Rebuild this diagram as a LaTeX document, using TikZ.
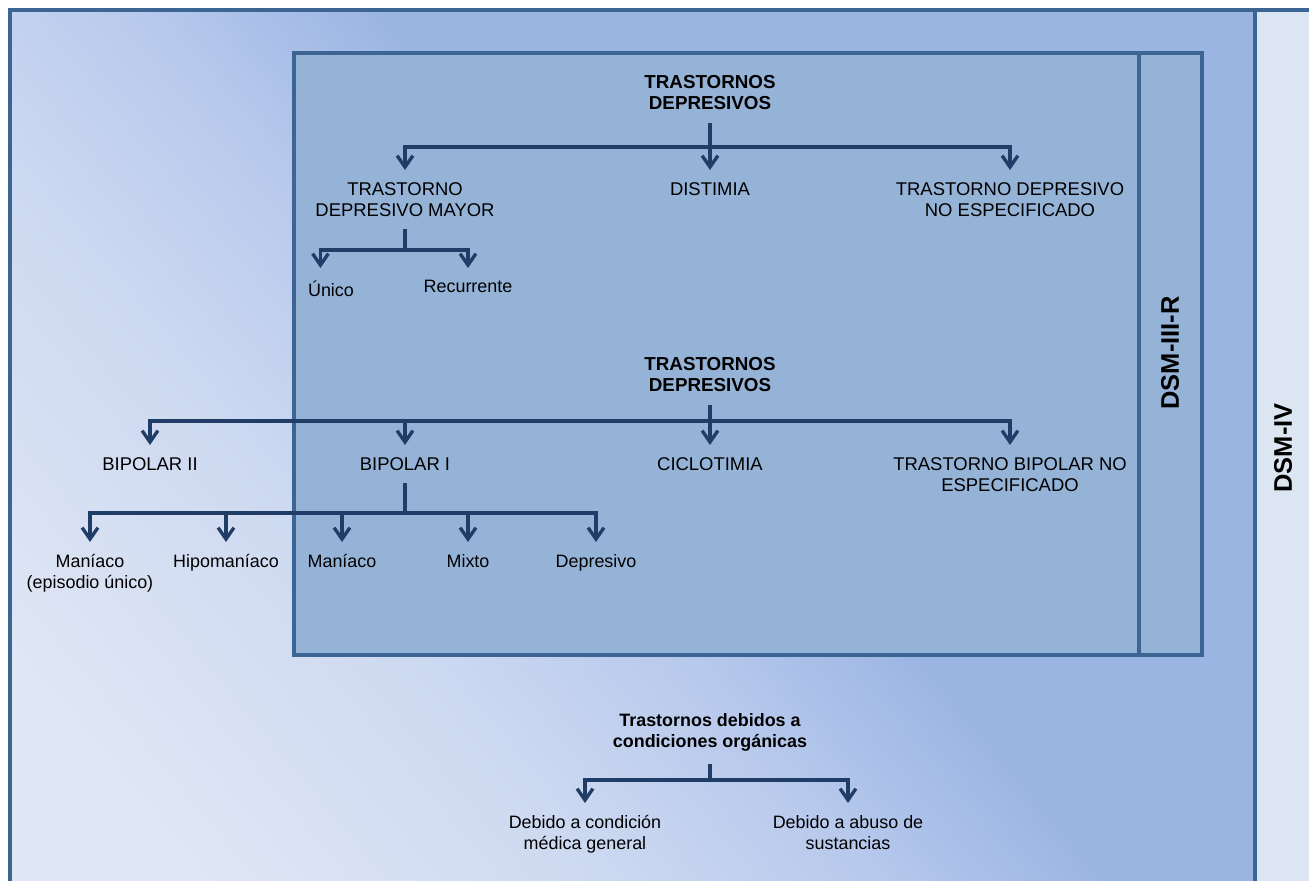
\documentclass[tikz,border=0pt]{standalone}
\usepackage{fontspec}
\setmainfont{Liberation Sans}
\usetikzlibrary{arrows.meta}

\definecolor{framecol}{HTML}{3D6594}
\definecolor{innerfill}{HTML}{95B3D7}
\definecolor{bandfill}{HTML}{DCE6F2}
\definecolor{linkcol}{HTML}{1F3D66}
\definecolor{fadeA}{HTML}{E1E8F5}
\definecolor{fadeB}{HTML}{CDD9F1}
\definecolor{fadeC}{HTML}{B6C8EC}
\definecolor{fadeD}{HTML}{9BB5E3}
\pgfdeclarehorizontalshading{dsmfade}{100bp}{color(0bp)=(fadeA); color(20bp)=(fadeA);
  color(36bp)=(fadeB); color(46bp)=(fadeC); color(54bp)=(fadeD); color(100bp)=(fadeD)}

\begin{document}
\begin{tikzpicture}[x=0.02cm,y=0.02cm,
      every node/.style={font=\fontsize{10.2}{12}\selectfont},
      item node/.style={align=center,inner xsep=1pt,inner ysep=7pt,anchor=north},
      caps node/.style={item node,font=\fontsize{10.5}{12}\selectfont},
      head node/.style={item node,font=\fontsize{10.2}{12}\selectfont\bfseries},
      dsm node/.style={rotate=90,font=\fontsize{14.5}{16}\selectfont\bfseries},
      frame/.style={draw=framecol,line width=2.2pt},
      stem/.style={draw=linkcol,line width=1.9pt},
      link/.style={stem,-{Straight Barb[length=6.5pt,width=9pt]}}]

      \useasboundingbox (0,0) rectangle (1309,-881);

      % DSM-IV frame
      \shade[shading=dsmfade,shading angle=40] (10,-10) rectangle (1255,-881);
      \fill[bandfill] (1255,-10) rectangle (1309,-881);
      \draw[frame] (10,-881) -- (10,-10) -- (1309,-10);
      \draw[frame] (1255,-10) -- (1255,-881);

      % DSM-III-R frame
      \path[frame,fill=innerfill] (294,-53) rectangle (1202,-655);
      \draw[frame] (1139,-53) -- (1139,-655);

      \node[dsm node] (dsm3) at (1170,-353) {DSM-III-R};
      \node[dsm node] (dsm4) at (1283,-448) {DSM-IV};

      % depresivos
      \node[head node,font=\fontsize{10.7}{12}\selectfont\bfseries] (dep1) at (710,-63) {TRASTORNOS\\DEPRESIVOS};
      \node[caps node] (tdm) at (405,-170) {TRASTORNO\\DEPRESIVO MAYOR};
      \node[caps node] (dist) at (710,-170) {DISTIMIA};
      \node[caps node] (tdne) at (1010,-170) {TRASTORNO DEPRESIVO\\NO ESPECIFICADO};
      \node[item node] (unico) at (331,-268) {Único};
      \node[item node] (recur) at (468,-268) {Recurrente};
      \coordinate (bus1) at (0,-147);
      \coordinate (bus2) at (0,-250);

      \draw[stem] (dep1.south) -- (dep1.south |- bus1);
      \foreach \n in {tdm,dist,tdne}
        \draw[link] (dep1.south |- bus1) -| (\n.north);
      \draw[stem] (tdm.south) -- (tdm.south |- bus2);
      \draw[link] (tdm.south |- bus2) -| ([xshift=-6pt]unico.north);
      \draw[link] (tdm.south |- bus2) -| (recur.north);

      % bipolares
      \node[head node,font=\fontsize{10.7}{12}\selectfont\bfseries] (dep2) at (710,-345) {TRASTORNOS\\DEPRESIVOS};
      \node[caps node] (bip2) at (150,-445) {BIPOLAR II};
      \node[caps node] (bip1) at (405,-445) {BIPOLAR I};
      \node[caps node] (ciclo) at (710,-445) {CICLOTIMIA};
      \node[caps node] (tbne) at (1010,-445) {TRASTORNO BIPOLAR NO\\ESPECIFICADO};
      \node[item node] (mania2) at (90,-542) {Maníaco\\(episodio único)};
      \node[item node] (hipo) at (226,-542) {Hipomaníaco};
      \node[item node] (mania1) at (342,-542) {Maníaco};
      \node[item node] (mixto) at (468,-542) {Mixto};
      \node[item node] (depre) at (596,-542) {Depresivo};
      \coordinate (bus3) at (0,-421);
      \coordinate (bus4) at (0,-513);

      \draw[stem] (dep2.south) -- (dep2.south |- bus3);
      \foreach \n in {bip2,bip1,ciclo,tbne}
        \draw[link] (dep2.south |- bus3) -| (\n.north);
      \draw[stem] (bip1.south) -- (bip1.south |- bus4);
      \foreach \n in {mania2,hipo,mania1,mixto,depre}
        \draw[link] (bip1.south |- bus4) -| (\n.north);

      % organicos
      \node[head node] (org) at (710,-701) {Trastornos debidos a\\condiciones orgánicas};
      \node[item node] (medica) at (585,-803) {Debido a condición\\médica general};
      \node[item node] (abuso) at (848,-803) {Debido a abuso de\\sustancias};
      \coordinate (bus5) at (0,-780);

      \draw[stem] (org.south) -- (org.south |- bus5);
      \foreach \n in {medica,abuso}
        \draw[link] (org.south |- bus5) -| (\n.north);
    \end{tikzpicture}
\end{document}
